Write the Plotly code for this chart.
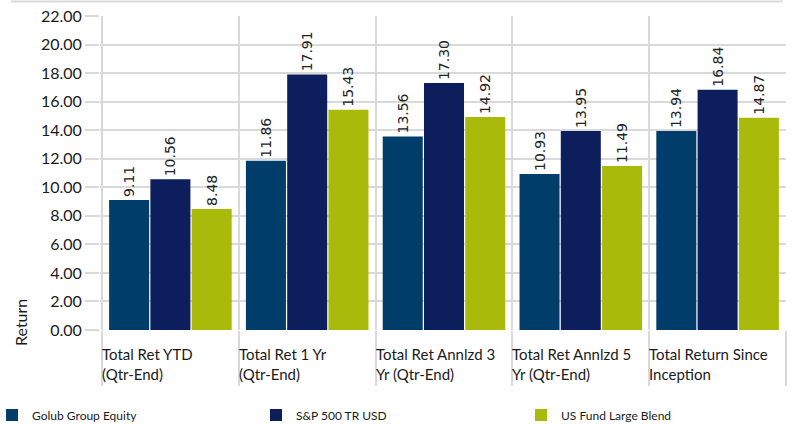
import plotly.graph_objects as go

categories = ["Total Ret YTD (Qtr-End)", "Total Ret 1 Yr (Qtr-End)", "Total Ret Annlzd 3 Yr (Qtr-End)",
              "Total Ret Annlzd 5 Yr (Qtr-End)", "Total Return Since Inception"]
category_labels = ["Total Ret YTD<br>(Qtr-End)", "Total Ret 1 Yr<br>(Qtr-End)", "Total Ret Annlzd 3<br>Yr (Qtr-End)",
                   "Total Ret Annlzd 5<br>Yr (Qtr-End)", "Total Return Since<br>Inception"]
golub = [9.11, 11.86, 13.56, 10.93, 13.94]
sp500 = [10.56, 17.91, 17.30, 13.95, 16.84]
usfund = [8.48, 15.43, 14.92, 11.49, 14.87]
series_names = ["Golub Group Equity", "S&P 500 TR USD", "US Fund Large Blend"]
colors = ["#003D6A", "#0C1E5C", "#A9BA0A"]
y_ticks = [0, 2, 4, 6, 8, 10, 12, 14, 16, 18, 20, 22]

GRID = "#D9D9D9"
legend_ids = ["legend", "legend2", "legend3"]
legend_x = [-0.1574, 0.2274, 0.6137]

fig = go.Figure()
for name, vals, c, lid in zip(series_names, [golub, sp500, usfund], colors, legend_ids):
    fig.add_trace(go.Bar(
        x=categories, y=vals, name=name, marker=dict(color=c, line=dict(width=0)),
        texttemplate="%{y:.2f}", textposition="outside", textangle=-90,
        textfont=dict(family="DejaVu Sans", size=14, color="#222222"),
        cliponaxis=False, legend=lid,
    ))

annotations = []
for i, lab in enumerate(category_labels):
    annotations.append(dict(x=i - 0.5, xref="x", y=0, yref="paper", yanchor="top", xanchor="left",
                            text=lab, showarrow=False, align="left", xshift=-2, yshift=-13,
                            font=dict(family="Lato", size=15, color="#1a1a1a")))
annotations.append(dict(x=-0.1166, xref="paper", y=0, yref="paper", yanchor="middle", xanchor="center",
                        text="Return", textangle=-90, showarrow=False, yshift=7,
                        font=dict(family="Lato", size=16, color="#1a1a1a")))

legend_common = dict(orientation="h", y=-0.271, xanchor="left", yanchor="middle",
                     font=dict(family="Lato", size=12, color="#1a1a1a"), itemclick=False,
                     bgcolor="rgba(0,0,0,0)")
layout_legends = {lid: dict(x=lx, **legend_common) for lid, lx in zip(legend_ids, legend_x)}

fig.update_layout(
    width=793, height=424,
    margin=dict(l=100, r=7, t=16, b=94, autoexpand=False),
    paper_bgcolor="white", plot_bgcolor="white",
    barmode="group", bargap=0.095, bargroupgap=0.03,
    font=dict(family="Lato", color="#1a1a1a"),
    showlegend=True,
    annotations=annotations,
    shapes=[dict(type="line", xref="paper", yref="paper", x0=-0.13, x1=0.995, y0=1.046, y1=1.046,
                 line=dict(color=GRID, width=2))],
    xaxis=dict(tickson="boundaries", ticks="outside", ticklen=55, tickcolor=GRID, tickwidth=1.5,
               showticklabels=False, showgrid=True, gridcolor=GRID, gridwidth=1.5,
               showline=False, zeroline=False, automargin=False),
    yaxis=dict(range=[0, 22], tickvals=y_ticks, tickformat=".2f", ticks="outside", ticklen=14,
               tickcolor=GRID, tickwidth=1.5, gridcolor=GRID, gridwidth=1.5, showline=False,
               zeroline=False, automargin=False, tickfont=dict(family="Lato", size=16, color="#1a1a1a")),
    **layout_legends,
)

fig.write_html("out.html", config={"displayModeBar": False},
               post_script="document.body.style.margin='0px';")
